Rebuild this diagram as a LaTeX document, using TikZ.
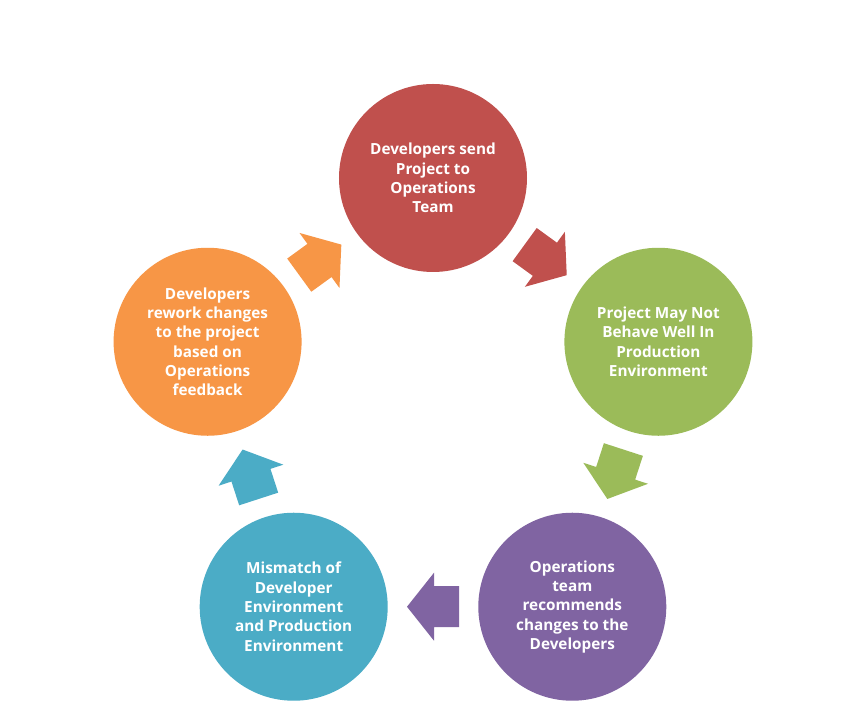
\documentclass[tikz,border=0pt]{standalone}
\usepackage{fontspec}
\setmainfont{Open Sans}
\usepackage{tikz}
\usetikzlibrary{calc}
\definecolor{rd}{HTML}{C0504D}
\definecolor{grn}{HTML}{9BBB59}
\definecolor{prp}{HTML}{8064A2}
\definecolor{blu}{HTML}{4BACC6}
\definecolor{orng}{HTML}{F79646}

\begin{document}
\begin{tikzpicture}[x=1pt, y=1pt,
  bub/.style={circle, minimum size=188pt, inner sep=0pt, align=center, text=white,
    font=\fontsize{15.3}{19.3}\selectfont\bfseries},
  flow/.pic={\fill[#1] (26,0) -- (-1,34) -- (-1,20.5) -- (-26,20.5) -- (-26,-20.5) -- (-1,-20.5) -- (-1,-34) -- cycle;}]
\useasboundingbox[fill=white] (-433,-299) rectangle (423,415);
\node[bub, fill=rd] (send) at (90:237) {Developers send\\Project to\\Operations\\Team};
\node[bub, fill=grn] (behave) at (18:237) {Project May Not\\Behave Well In\\Production\\Environment};
\node[bub, fill=prp] (recom) at (-54:237) {Operations\\team\\recommends\\changes to the\\Developers};
\node[bub, fill=blu] (mism) at (-126:237) {Mismatch of\\Developer\\Environment\\and Production\\Environment};
\node[bub, fill=orng] (rework) at (162:237) {Developers\\rework changes\\to the project\\based on\\Operations\\feedback};
%block arrows between the circles
\foreach \a/\b/\c in {send/behave/rd, behave/recom/grn, recom/mism/prp, mism/rework/blu, rework/send/orng}{
	\path let \p1=($(\b)-(\a)$), \n1={atan2(\y1,\x1)} in
		($(\a)!0.5!(\b)$) pic[rotate=\n1]{flow=\c};
}
\end{tikzpicture}
\end{document}
